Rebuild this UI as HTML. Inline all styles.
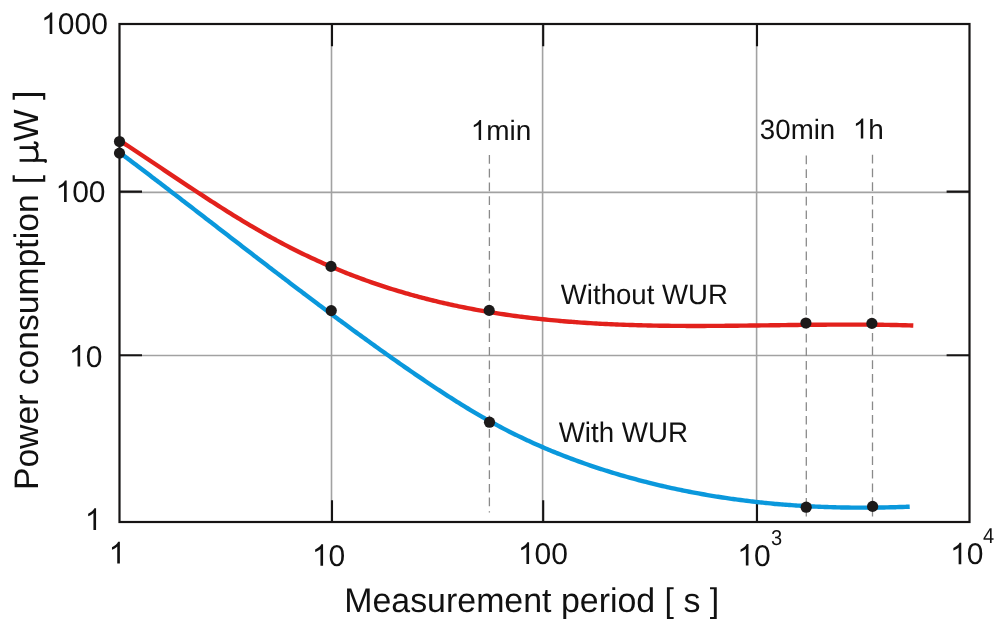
<!DOCTYPE html>
<html><head><meta charset="utf-8"><style>
html,body{margin:0;padding:0;background:#fff;overflow:hidden;width:1000px;height:627px;}
svg{display:block;}
text{font-family:"Liberation Sans",sans-serif;text-rendering:geometricPrecision;}
</style></head><body>
<svg width="1000" height="627" viewBox="0 0 1000 627">
<rect width="1000" height="627" fill="#fff"/>
<line x1="331.5" y1="24" x2="331.5" y2="522" stroke="#a2a2a2" stroke-width="1.6"/>
<line x1="542.6" y1="24" x2="542.6" y2="522" stroke="#a2a2a2" stroke-width="1.6"/>
<line x1="756.6" y1="24" x2="756.6" y2="522" stroke="#a2a2a2" stroke-width="1.6"/>
<line x1="119.5" y1="192.4" x2="969.5" y2="192.4" stroke="#a2a2a2" stroke-width="1.6"/>
<line x1="119.5" y1="355.5" x2="969.5" y2="355.5" stroke="#a2a2a2" stroke-width="1.6"/>
<path d="M332.0,24V46.2 M332.0,522V500.2 M543.2,24V46.2 M543.2,522V500.2 M757.0,24V46.2 M757.0,522V500.2 M119.5,191.6H142 M969.5,191.6H946.6 M119.5,355.3H142 M969.5,355.3H946.6" stroke="#161414" stroke-width="2.1" fill="none"/>
<line x1="489.4" y1="155.1" x2="489.4" y2="512.5" stroke="#8a8a8a" stroke-width="1.3" stroke-dasharray="8.7 5"/>
<line x1="806.3" y1="155.6" x2="806.3" y2="516.5" stroke="#8a8a8a" stroke-width="1.3" stroke-dasharray="8.7 5"/>
<line x1="872.5" y1="154.8" x2="872.5" y2="516.5" stroke="#8a8a8a" stroke-width="1.3" stroke-dasharray="8.7 5"/>
<rect x="119.5" y="24" width="850" height="498" fill="none" stroke="#161414" stroke-width="2.2"/>
<path d="M119.50,140.35 C120.00,140.68 121.50,141.66 122.50,142.32 C123.50,142.98 124.50,143.64 125.50,144.30 C126.50,144.95 127.50,145.61 128.50,146.28 C129.50,146.94 130.50,147.60 131.50,148.26 C132.50,148.92 133.50,149.59 134.50,150.25 C135.50,150.92 136.50,151.58 137.50,152.25 C138.50,152.91 139.50,153.58 140.50,154.24 C141.50,154.91 142.50,155.58 143.50,156.25 C144.50,156.91 145.50,157.58 146.50,158.25 C147.50,158.92 148.50,159.59 149.50,160.26 C150.50,160.92 151.50,161.59 152.50,162.26 C153.50,162.93 154.50,163.60 155.50,164.27 C156.50,164.94 157.50,165.61 158.50,166.28 C159.50,166.95 160.50,167.62 161.50,168.29 C162.50,168.96 163.50,169.63 164.50,170.30 C165.50,170.97 166.50,171.64 167.50,172.31 C168.50,172.98 169.50,173.65 170.50,174.32 C171.50,174.99 172.50,175.65 173.50,176.32 C174.50,176.99 175.50,177.66 176.50,178.32 C177.50,178.99 178.50,179.66 179.50,180.32 C180.50,180.99 181.50,181.66 182.50,182.32 C183.50,182.99 184.50,183.65 185.50,184.31 C186.50,184.98 187.50,185.64 188.50,186.30 C189.50,186.96 190.50,187.63 191.50,188.29 C192.50,188.95 193.50,189.61 194.50,190.26 C195.50,190.92 196.50,191.58 197.50,192.24 C198.50,192.89 199.50,193.55 200.50,194.20 C201.50,194.86 202.50,195.51 203.50,196.16 C204.50,196.81 205.50,197.46 206.50,198.11 C207.50,198.76 208.50,199.41 209.50,200.06 C210.50,200.70 211.50,201.35 212.50,201.99 C213.50,202.63 214.50,203.28 215.50,203.92 C216.50,204.56 217.50,205.20 218.50,205.83 C219.50,206.47 220.50,207.11 221.50,207.74 C222.50,208.38 223.50,209.01 224.50,209.64 C225.50,210.27 226.50,210.90 227.50,211.52 C228.50,212.15 229.50,212.78 230.50,213.40 C231.50,214.02 232.50,214.64 233.50,215.26 C234.50,215.88 235.50,216.50 236.50,217.11 C237.50,217.72 238.50,218.34 239.50,218.95 C240.50,219.56 241.50,220.17 242.50,220.77 C243.50,221.38 244.50,221.98 245.50,222.58 C246.50,223.18 247.50,223.78 248.50,224.38 C249.50,224.97 250.50,225.57 251.50,226.16 C252.50,226.75 253.50,227.34 254.50,227.92 C255.50,228.51 256.50,229.09 257.50,229.67 C258.50,230.25 259.50,230.83 260.50,231.40 C261.50,231.98 262.50,232.55 263.50,233.12 C264.50,233.69 265.50,234.25 266.50,234.82 C267.50,235.38 268.50,235.94 269.50,236.50 C270.50,237.05 271.50,237.61 272.50,238.16 C273.50,238.71 274.50,239.26 275.50,239.80 C276.50,240.34 277.50,240.89 278.50,241.42 C279.50,241.96 280.50,242.50 281.50,243.03 C282.50,243.56 283.50,244.09 284.50,244.61 C285.50,245.13 286.50,245.66 287.50,246.17 C288.50,246.69 289.50,247.21 290.50,247.72 C291.50,248.23 292.50,248.74 293.50,249.24 C294.50,249.74 295.50,250.25 296.50,250.74 C297.50,251.24 298.50,251.74 299.50,252.23 C300.50,252.72 301.50,253.21 302.50,253.69 C303.50,254.18 304.50,254.66 305.50,255.14 C306.50,255.62 307.50,256.09 308.50,256.57 C309.50,257.04 310.50,257.51 311.50,257.97 C312.50,258.44 313.50,258.90 314.50,259.36 C315.50,259.82 316.50,260.28 317.50,260.73 C318.50,261.19 319.50,261.64 320.50,262.08 C321.50,262.53 322.50,262.98 323.50,263.42 C324.50,263.86 325.50,264.30 326.50,264.73 C327.50,265.17 328.50,265.60 329.50,266.03 C330.50,266.46 331.50,266.88 332.50,267.30 C333.50,267.73 334.50,268.15 335.50,268.56 C336.50,268.98 337.50,269.40 338.50,269.81 C339.50,270.22 340.50,270.63 341.50,271.03 C342.50,271.44 343.50,271.84 344.50,272.24 C345.50,272.64 346.50,273.03 347.50,273.43 C348.50,273.82 349.50,274.21 350.50,274.60 C351.50,274.99 352.50,275.37 353.50,275.75 C354.50,276.14 355.50,276.51 356.50,276.89 C357.50,277.27 358.50,277.64 359.50,278.01 C360.50,278.38 361.50,278.75 362.50,279.12 C363.50,279.48 364.50,279.84 365.50,280.20 C366.50,280.56 367.50,280.92 368.50,281.27 C369.50,281.63 370.50,281.98 371.50,282.33 C372.50,282.67 373.50,283.02 374.50,283.36 C375.50,283.71 376.50,284.05 377.50,284.38 C378.50,284.72 379.50,285.06 380.50,285.39 C381.50,285.72 382.50,286.05 383.50,286.38 C384.50,286.71 385.50,287.03 386.50,287.35 C387.50,287.67 388.50,287.99 389.50,288.31 C390.50,288.63 391.50,288.94 392.50,289.25 C393.50,289.56 394.50,289.87 395.50,290.18 C396.50,290.48 397.50,290.79 398.50,291.09 C399.50,291.39 400.50,291.69 401.50,291.98 C402.50,292.28 403.50,292.57 404.50,292.87 C405.50,293.16 406.50,293.44 407.50,293.73 C408.50,294.02 409.50,294.30 410.50,294.58 C411.50,294.86 412.50,295.14 413.50,295.42 C414.50,295.69 415.50,295.97 416.50,296.24 C417.50,296.51 418.50,296.78 419.50,297.05 C420.50,297.31 421.50,297.58 422.50,297.84 C423.50,298.10 424.50,298.36 425.50,298.62 C426.50,298.87 427.50,299.13 428.50,299.38 C429.50,299.63 430.50,299.88 431.50,300.13 C432.50,300.38 433.50,300.62 434.50,300.87 C435.50,301.11 436.50,301.35 437.50,301.59 C438.50,301.83 439.50,302.07 440.50,302.30 C441.50,302.53 442.50,302.77 443.50,303.00 C444.50,303.23 445.50,303.45 446.50,303.68 C447.50,303.90 448.50,304.13 449.50,304.35 C450.50,304.57 451.50,304.79 452.50,305.00 C453.50,305.22 454.50,305.43 455.50,305.65 C456.50,305.86 457.50,306.07 458.50,306.28 C459.50,306.48 460.50,306.69 461.50,306.89 C462.50,307.10 463.50,307.30 464.50,307.50 C465.50,307.70 466.50,307.90 467.50,308.09 C468.50,308.29 469.50,308.48 470.50,308.67 C471.50,308.86 472.50,309.05 473.50,309.24 C474.50,309.43 475.50,309.61 476.50,309.79 C477.50,309.98 478.50,310.16 479.50,310.34 C480.50,310.52 481.50,310.69 482.50,310.87 C483.50,311.05 484.50,311.22 485.50,311.39 C486.50,311.56 487.50,311.73 488.50,311.90 C489.50,312.07 490.50,312.23 491.50,312.40 C492.50,312.56 493.50,312.72 494.50,312.88 C495.50,313.04 496.50,313.20 497.50,313.36 C498.50,313.51 499.50,313.67 500.50,313.82 C501.50,313.97 502.50,314.12 503.50,314.27 C504.50,314.42 505.50,314.57 506.50,314.71 C507.50,314.86 508.50,315.00 509.50,315.14 C510.50,315.29 511.50,315.43 512.50,315.57 C513.50,315.70 514.50,315.84 515.50,315.98 C516.50,316.11 517.50,316.24 518.50,316.37 C519.50,316.51 520.50,316.64 521.50,316.76 C522.50,316.89 523.50,317.02 524.50,317.14 C525.50,317.27 526.50,317.39 527.50,317.51 C528.50,317.63 529.50,317.75 530.50,317.87 C531.50,317.99 532.50,318.11 533.50,318.22 C534.50,318.34 535.50,318.45 536.50,318.56 C537.50,318.67 538.50,318.78 539.50,318.89 C540.50,319.00 541.50,319.11 542.50,319.21 C543.50,319.32 544.50,319.42 545.50,319.52 C546.50,319.63 547.50,319.73 548.50,319.83 C549.50,319.92 550.50,320.02 551.50,320.12 C552.50,320.22 553.50,320.31 554.50,320.40 C555.50,320.50 556.50,320.59 557.50,320.68 C558.50,320.77 559.50,320.86 560.50,320.95 C561.50,321.03 562.50,321.12 563.50,321.20 C564.50,321.29 565.50,321.37 566.50,321.45 C567.50,321.54 568.50,321.62 569.50,321.70 C570.50,321.78 571.50,321.85 572.50,321.93 C573.50,322.01 574.50,322.08 575.50,322.16 C576.50,322.23 577.50,322.30 578.50,322.37 C579.50,322.44 580.50,322.51 581.50,322.58 C582.50,322.65 583.50,322.72 584.50,322.78 C585.50,322.85 586.50,322.92 587.50,322.98 C588.50,323.04 589.50,323.10 590.50,323.17 C591.50,323.23 592.50,323.29 593.50,323.35 C594.50,323.40 595.50,323.46 596.50,323.52 C597.50,323.57 598.50,323.63 599.50,323.68 C600.50,323.74 601.50,323.79 602.50,323.84 C603.50,323.89 604.50,323.94 605.50,323.99 C606.50,324.04 607.50,324.09 608.50,324.14 C609.50,324.18 610.50,324.23 611.50,324.28 C612.50,324.32 613.50,324.36 614.50,324.41 C615.50,324.45 616.50,324.49 617.50,324.53 C618.50,324.57 619.50,324.61 620.50,324.65 C621.50,324.69 622.50,324.73 623.50,324.76 C624.50,324.80 625.50,324.84 626.50,324.87 C627.50,324.90 628.50,324.94 629.50,324.97 C630.50,325.00 631.50,325.04 632.50,325.07 C633.50,325.10 634.50,325.13 635.50,325.16 C636.50,325.18 637.50,325.21 638.50,325.24 C639.50,325.27 640.50,325.29 641.50,325.32 C642.50,325.34 643.50,325.37 644.50,325.39 C645.50,325.41 646.50,325.44 647.50,325.46 C648.50,325.48 649.50,325.50 650.50,325.52 C651.50,325.54 652.50,325.56 653.50,325.58 C654.50,325.60 655.50,325.62 656.50,325.63 C657.50,325.65 658.50,325.67 659.50,325.68 C660.50,325.70 661.50,325.71 662.50,325.73 C663.50,325.74 664.50,325.75 665.50,325.77 C666.50,325.78 667.50,325.79 668.50,325.80 C669.50,325.81 670.50,325.82 671.50,325.83 C672.50,325.84 673.50,325.85 674.50,325.86 C675.50,325.87 676.50,325.88 677.50,325.88 C678.50,325.89 679.50,325.90 680.50,325.90 C681.50,325.91 682.50,325.91 683.50,325.92 C684.50,325.92 685.50,325.93 686.50,325.93 C687.50,325.93 688.50,325.94 689.50,325.94 C690.50,325.94 691.50,325.94 692.50,325.94 C693.50,325.94 694.50,325.94 695.50,325.94 C696.50,325.94 697.50,325.94 698.50,325.94 C699.50,325.94 700.50,325.94 701.50,325.94 C702.50,325.94 703.50,325.94 704.50,325.93 C705.50,325.93 706.50,325.93 707.50,325.92 C708.50,325.92 709.50,325.91 710.50,325.91 C711.50,325.91 712.50,325.90 713.50,325.90 C714.50,325.89 715.50,325.88 716.50,325.88 C717.50,325.87 718.50,325.87 719.50,325.86 C720.50,325.85 721.50,325.84 722.50,325.84 C723.50,325.83 724.50,325.82 725.50,325.81 C726.50,325.80 727.50,325.80 728.50,325.79 C729.50,325.78 730.50,325.77 731.50,325.76 C732.50,325.75 733.50,325.74 734.50,325.73 C735.50,325.72 736.50,325.71 737.50,325.70 C738.50,325.69 739.50,325.68 740.50,325.67 C741.50,325.66 742.50,325.65 743.50,325.63 C744.50,325.62 745.50,325.61 746.50,325.60 C747.50,325.59 748.50,325.58 749.50,325.56 C750.50,325.55 751.50,325.54 752.50,325.53 C753.50,325.52 754.50,325.50 755.50,325.49 C756.50,325.48 757.50,325.47 758.50,325.45 C759.50,325.44 760.50,325.43 761.50,325.41 C762.50,325.40 763.50,325.39 764.50,325.38 C765.50,325.36 766.50,325.35 767.50,325.34 C768.50,325.32 769.50,325.31 770.50,325.30 C771.50,325.28 772.50,325.27 773.50,325.26 C774.50,325.24 775.50,325.23 776.50,325.22 C777.50,325.20 778.50,325.19 779.50,325.18 C780.50,325.17 781.50,325.15 782.50,325.14 C783.50,325.13 784.50,325.11 785.50,325.10 C786.50,325.09 787.50,325.08 788.50,325.06 C789.50,325.05 790.50,325.04 791.50,325.02 C792.50,325.01 793.50,325.00 794.50,324.99 C795.50,324.98 796.50,324.96 797.50,324.95 C798.50,324.94 799.50,324.93 800.50,324.92 C801.50,324.91 802.50,324.89 803.50,324.88 C804.50,324.87 805.50,324.86 806.50,324.85 C807.50,324.84 808.50,324.83 809.50,324.82 C810.50,324.81 811.50,324.80 812.50,324.79 C813.50,324.78 814.50,324.77 815.50,324.76 C816.50,324.75 817.50,324.74 818.50,324.74 C819.50,324.73 820.50,324.72 821.50,324.71 C822.50,324.70 823.50,324.70 824.50,324.69 C825.50,324.68 826.50,324.68 827.50,324.67 C828.50,324.66 829.50,324.66 830.50,324.65 C831.50,324.65 832.50,324.64 833.50,324.64 C834.50,324.63 835.50,324.63 836.50,324.62 C837.50,324.62 838.50,324.61 839.50,324.61 C840.50,324.61 841.50,324.61 842.50,324.60 C843.50,324.60 844.50,324.60 845.50,324.60 C846.50,324.60 847.50,324.60 848.50,324.60 C849.50,324.60 850.50,324.60 851.50,324.60 C852.50,324.60 853.50,324.60 854.50,324.60 C855.50,324.60 856.50,324.60 857.50,324.61 C858.50,324.61 859.50,324.61 860.50,324.62 C861.50,324.62 862.50,324.63 863.50,324.63 C864.50,324.64 865.50,324.64 866.50,324.65 C867.50,324.66 868.50,324.66 869.50,324.67 C870.50,324.68 871.50,324.69 872.50,324.70 C873.50,324.71 874.50,324.72 875.50,324.73 C876.50,324.74 877.50,324.75 878.50,324.76 C879.50,324.77 880.50,324.79 881.50,324.80 C882.50,324.81 883.50,324.83 884.50,324.84 C885.50,324.86 886.50,324.87 887.50,324.89 C888.50,324.91 889.50,324.92 890.50,324.94 C891.50,324.96 892.50,324.98 893.50,325.00 C894.50,325.02 895.50,325.04 896.50,325.06 C897.50,325.08 898.50,325.10 899.50,325.13 C900.50,325.15 901.50,325.17 902.50,325.20 C903.50,325.22 904.50,325.25 905.50,325.27 C906.50,325.30 907.50,325.33 908.50,325.36 C909.50,325.38 910.70,325.42 911.50,325.44 C912.30,325.47 913.00,325.49 913.30,325.50" fill="none" stroke="#e2211c" stroke-width="4.4" stroke-linejoin="round"/>
<path d="M119.50,152.35 C120.00,152.73 121.50,153.86 122.50,154.61 C123.50,155.37 124.50,156.12 125.50,156.88 C126.50,157.63 127.50,158.39 128.50,159.14 C129.50,159.90 130.50,160.65 131.50,161.41 C132.50,162.17 133.50,162.93 134.50,163.68 C135.50,164.44 136.50,165.20 137.50,165.96 C138.50,166.72 139.50,167.48 140.50,168.24 C141.50,169.00 142.50,169.76 143.50,170.52 C144.50,171.28 145.50,172.04 146.50,172.80 C147.50,173.57 148.50,174.33 149.50,175.09 C150.50,175.85 151.50,176.62 152.50,177.38 C153.50,178.14 154.50,178.91 155.50,179.67 C156.50,180.44 157.50,181.20 158.50,181.97 C159.50,182.73 160.50,183.50 161.50,184.26 C162.50,185.03 163.50,185.80 164.50,186.56 C165.50,187.33 166.50,188.09 167.50,188.86 C168.50,189.63 169.50,190.40 170.50,191.16 C171.50,191.93 172.50,192.70 173.50,193.47 C174.50,194.24 175.50,195.00 176.50,195.77 C177.50,196.54 178.50,197.31 179.50,198.08 C180.50,198.85 181.50,199.62 182.50,200.39 C183.50,201.16 184.50,201.93 185.50,202.70 C186.50,203.47 187.50,204.24 188.50,205.01 C189.50,205.78 190.50,206.55 191.50,207.32 C192.50,208.09 193.50,208.86 194.50,209.63 C195.50,210.40 196.50,211.17 197.50,211.94 C198.50,212.72 199.50,213.49 200.50,214.26 C201.50,215.03 202.50,215.80 203.50,216.57 C204.50,217.34 205.50,218.12 206.50,218.89 C207.50,219.66 208.50,220.43 209.50,221.20 C210.50,221.97 211.50,222.75 212.50,223.52 C213.50,224.29 214.50,225.06 215.50,225.83 C216.50,226.60 217.50,227.38 218.50,228.15 C219.50,228.92 220.50,229.69 221.50,230.46 C222.50,231.24 223.50,232.01 224.50,232.78 C225.50,233.55 226.50,234.32 227.50,235.09 C228.50,235.86 229.50,236.64 230.50,237.41 C231.50,238.18 232.50,238.95 233.50,239.72 C234.50,240.49 235.50,241.26 236.50,242.03 C237.50,242.80 238.50,243.57 239.50,244.34 C240.50,245.12 241.50,245.89 242.50,246.66 C243.50,247.43 244.50,248.20 245.50,248.97 C246.50,249.73 247.50,250.50 248.50,251.27 C249.50,252.04 250.50,252.81 251.50,253.58 C252.50,254.35 253.50,255.12 254.50,255.89 C255.50,256.66 256.50,257.42 257.50,258.19 C258.50,258.96 259.50,259.73 260.50,260.49 C261.50,261.26 262.50,262.03 263.50,262.79 C264.50,263.56 265.50,264.33 266.50,265.09 C267.50,265.86 268.50,266.63 269.50,267.39 C270.50,268.16 271.50,268.92 272.50,269.69 C273.50,270.45 274.50,271.21 275.50,271.98 C276.50,272.74 277.50,273.51 278.50,274.27 C279.50,275.03 280.50,275.79 281.50,276.56 C282.50,277.32 283.50,278.08 284.50,278.84 C285.50,279.60 286.50,280.36 287.50,281.12 C288.50,281.88 289.50,282.64 290.50,283.40 C291.50,284.16 292.50,284.92 293.50,285.68 C294.50,286.44 295.50,287.20 296.50,287.95 C297.50,288.71 298.50,289.47 299.50,290.23 C300.50,290.98 301.50,291.74 302.50,292.49 C303.50,293.25 304.50,294.00 305.50,294.76 C306.50,295.51 307.50,296.26 308.50,297.02 C309.50,297.77 310.50,298.52 311.50,299.27 C312.50,300.03 313.50,300.78 314.50,301.53 C315.50,302.28 316.50,303.03 317.50,303.78 C318.50,304.53 319.50,305.27 320.50,306.02 C321.50,306.77 322.50,307.52 323.50,308.26 C324.50,309.01 325.50,309.76 326.50,310.50 C327.50,311.25 328.50,311.99 329.50,312.73 C330.50,313.48 331.50,314.22 332.50,314.96 C333.50,315.70 334.50,316.45 335.50,317.19 C336.50,317.93 337.50,318.67 338.50,319.41 C339.50,320.14 340.50,320.88 341.50,321.62 C342.50,322.36 343.50,323.09 344.50,323.83 C345.50,324.57 346.50,325.30 347.50,326.03 C348.50,326.77 349.50,327.50 350.50,328.23 C351.50,328.97 352.50,329.70 353.50,330.43 C354.50,331.16 355.50,331.89 356.50,332.62 C357.50,333.35 358.50,334.07 359.50,334.80 C360.50,335.53 361.50,336.25 362.50,336.98 C363.50,337.70 364.50,338.43 365.50,339.15 C366.50,339.87 367.50,340.60 368.50,341.32 C369.50,342.04 370.50,342.76 371.50,343.48 C372.50,344.20 373.50,344.91 374.50,345.63 C375.50,346.35 376.50,347.06 377.50,347.78 C378.50,348.50 379.50,349.21 380.50,349.92 C381.50,350.63 382.50,351.35 383.50,352.06 C384.50,352.77 385.50,353.48 386.50,354.19 C387.50,354.90 388.50,355.60 389.50,356.31 C390.50,357.02 391.50,357.72 392.50,358.43 C393.50,359.13 394.50,359.83 395.50,360.53 C396.50,361.24 397.50,361.94 398.50,362.64 C399.50,363.34 400.50,364.03 401.50,364.73 C402.50,365.43 403.50,366.12 404.50,366.82 C405.50,367.51 406.50,368.21 407.50,368.90 C408.50,369.59 409.50,370.28 410.50,370.97 C411.50,371.66 412.50,372.35 413.50,373.04 C414.50,373.72 415.50,374.41 416.50,375.09 C417.50,375.78 418.50,376.46 419.50,377.14 C420.50,377.82 421.50,378.50 422.50,379.18 C423.50,379.86 424.50,380.54 425.50,381.21 C426.50,381.89 427.50,382.56 428.50,383.23 C429.50,383.90 430.50,384.57 431.50,385.24 C432.50,385.90 433.50,386.57 434.50,387.23 C435.50,387.90 436.50,388.56 437.50,389.22 C438.50,389.88 439.50,390.53 440.50,391.19 C441.50,391.84 442.50,392.49 443.50,393.14 C444.50,393.79 445.50,394.44 446.50,395.09 C447.50,395.73 448.50,396.38 449.50,397.02 C450.50,397.66 451.50,398.29 452.50,398.93 C453.50,399.57 454.50,400.20 455.50,400.83 C456.50,401.46 457.50,402.08 458.50,402.71 C459.50,403.33 460.50,403.95 461.50,404.57 C462.50,405.19 463.50,405.81 464.50,406.42 C465.50,407.03 466.50,407.64 467.50,408.25 C468.50,408.86 469.50,409.46 470.50,410.06 C471.50,410.66 472.50,411.26 473.50,411.85 C474.50,412.44 475.50,413.03 476.50,413.62 C477.50,414.21 478.50,414.79 479.50,415.37 C480.50,415.95 481.50,416.53 482.50,417.10 C483.50,417.67 484.50,418.24 485.50,418.81 C486.50,419.37 487.50,419.94 488.50,420.50 C489.50,421.05 490.50,421.61 491.50,422.16 C492.50,422.71 493.50,423.26 494.50,423.80 C495.50,424.34 496.50,424.88 497.50,425.42 C498.50,425.95 499.50,426.48 500.50,427.01 C501.50,427.54 502.50,428.06 503.50,428.58 C504.50,429.11 505.50,429.62 506.50,430.14 C507.50,430.65 508.50,431.16 509.50,431.67 C510.50,432.17 511.50,432.67 512.50,433.17 C513.50,433.67 514.50,434.17 515.50,434.66 C516.50,435.15 517.50,435.64 518.50,436.13 C519.50,436.61 520.50,437.09 521.50,437.57 C522.50,438.05 523.50,438.52 524.50,439.00 C525.50,439.47 526.50,439.94 527.50,440.40 C528.50,440.86 529.50,441.33 530.50,441.78 C531.50,442.24 532.50,442.70 533.50,443.15 C534.50,443.60 535.50,444.05 536.50,444.49 C537.50,444.94 538.50,445.38 539.50,445.82 C540.50,446.26 541.50,446.69 542.50,447.12 C543.50,447.55 544.50,447.98 545.50,448.41 C546.50,448.83 547.50,449.26 548.50,449.68 C549.50,450.10 550.50,450.51 551.50,450.93 C552.50,451.34 553.50,451.75 554.50,452.16 C555.50,452.56 556.50,452.97 557.50,453.37 C558.50,453.77 559.50,454.17 560.50,454.56 C561.50,454.96 562.50,455.35 563.50,455.74 C564.50,456.13 565.50,456.52 566.50,456.90 C567.50,457.28 568.50,457.66 569.50,458.04 C570.50,458.42 571.50,458.79 572.50,459.17 C573.50,459.54 574.50,459.91 575.50,460.27 C576.50,460.64 577.50,461.01 578.50,461.37 C579.50,461.73 580.50,462.09 581.50,462.44 C582.50,462.80 583.50,463.15 584.50,463.50 C585.50,463.85 586.50,464.20 587.50,464.54 C588.50,464.89 589.50,465.23 590.50,465.57 C591.50,465.91 592.50,466.25 593.50,466.58 C594.50,466.92 595.50,467.25 596.50,467.58 C597.50,467.91 598.50,468.24 599.50,468.56 C600.50,468.88 601.50,469.21 602.50,469.53 C603.50,469.85 604.50,470.16 605.50,470.48 C606.50,470.79 607.50,471.11 608.50,471.42 C609.50,471.73 610.50,472.03 611.50,472.34 C612.50,472.64 613.50,472.95 614.50,473.25 C615.50,473.55 616.50,473.85 617.50,474.14 C618.50,474.44 619.50,474.73 620.50,475.03 C621.50,475.32 622.50,475.61 623.50,475.89 C624.50,476.18 625.50,476.47 626.50,476.75 C627.50,477.03 628.50,477.31 629.50,477.59 C630.50,477.87 631.50,478.15 632.50,478.42 C633.50,478.70 634.50,478.97 635.50,479.24 C636.50,479.51 637.50,479.77 638.50,480.04 C639.50,480.31 640.50,480.57 641.50,480.83 C642.50,481.09 643.50,481.35 644.50,481.61 C645.50,481.86 646.50,482.12 647.50,482.37 C648.50,482.62 649.50,482.87 650.50,483.12 C651.50,483.37 652.50,483.62 653.50,483.86 C654.50,484.11 655.50,484.35 656.50,484.59 C657.50,484.83 658.50,485.07 659.50,485.30 C660.50,485.54 661.50,485.77 662.50,486.00 C663.50,486.23 664.50,486.46 665.50,486.69 C666.50,486.92 667.50,487.14 668.50,487.37 C669.50,487.59 670.50,487.81 671.50,488.03 C672.50,488.25 673.50,488.47 674.50,488.68 C675.50,488.90 676.50,489.11 677.50,489.32 C678.50,489.53 679.50,489.74 680.50,489.95 C681.50,490.15 682.50,490.36 683.50,490.56 C684.50,490.77 685.50,490.97 686.50,491.17 C687.50,491.36 688.50,491.56 689.50,491.76 C690.50,491.95 691.50,492.14 692.50,492.34 C693.50,492.53 694.50,492.72 695.50,492.90 C696.50,493.09 697.50,493.27 698.50,493.46 C699.50,493.64 700.50,493.82 701.50,494.00 C702.50,494.18 703.50,494.36 704.50,494.53 C705.50,494.71 706.50,494.88 707.50,495.05 C708.50,495.23 709.50,495.40 710.50,495.56 C711.50,495.73 712.50,495.90 713.50,496.06 C714.50,496.22 715.50,496.39 716.50,496.55 C717.50,496.71 718.50,496.86 719.50,497.02 C720.50,497.18 721.50,497.33 722.50,497.48 C723.50,497.64 724.50,497.79 725.50,497.94 C726.50,498.09 727.50,498.23 728.50,498.38 C729.50,498.52 730.50,498.67 731.50,498.81 C732.50,498.95 733.50,499.09 734.50,499.23 C735.50,499.36 736.50,499.50 737.50,499.63 C738.50,499.77 739.50,499.90 740.50,500.03 C741.50,500.16 742.50,500.29 743.50,500.42 C744.50,500.54 745.50,500.67 746.50,500.79 C747.50,500.92 748.50,501.04 749.50,501.16 C750.50,501.28 751.50,501.39 752.50,501.51 C753.50,501.63 754.50,501.74 755.50,501.85 C756.50,501.97 757.50,502.08 758.50,502.19 C759.50,502.30 760.50,502.40 761.50,502.51 C762.50,502.61 763.50,502.72 764.50,502.82 C765.50,502.92 766.50,503.02 767.50,503.12 C768.50,503.22 769.50,503.32 770.50,503.41 C771.50,503.51 772.50,503.60 773.50,503.69 C774.50,503.79 775.50,503.88 776.50,503.96 C777.50,504.05 778.50,504.14 779.50,504.22 C780.50,504.31 781.50,504.39 782.50,504.48 C783.50,504.56 784.50,504.64 785.50,504.72 C786.50,504.79 787.50,504.87 788.50,504.95 C789.50,505.02 790.50,505.10 791.50,505.17 C792.50,505.24 793.50,505.31 794.50,505.38 C795.50,505.45 796.50,505.51 797.50,505.58 C798.50,505.64 799.50,505.71 800.50,505.77 C801.50,505.83 802.50,505.89 803.50,505.95 C804.50,506.01 805.50,506.07 806.50,506.13 C807.50,506.18 808.50,506.24 809.50,506.29 C810.50,506.34 811.50,506.39 812.50,506.44 C813.50,506.49 814.50,506.54 815.50,506.59 C816.50,506.63 817.50,506.68 818.50,506.72 C819.50,506.76 820.50,506.81 821.50,506.85 C822.50,506.89 823.50,506.92 824.50,506.96 C825.50,507.00 826.50,507.03 827.50,507.07 C828.50,507.10 829.50,507.14 830.50,507.17 C831.50,507.20 832.50,507.23 833.50,507.26 C834.50,507.28 835.50,507.31 836.50,507.34 C837.50,507.36 838.50,507.39 839.50,507.41 C840.50,507.43 841.50,507.45 842.50,507.47 C843.50,507.49 844.50,507.51 845.50,507.52 C846.50,507.54 847.50,507.56 848.50,507.57 C849.50,507.58 850.50,507.59 851.50,507.61 C852.50,507.62 853.50,507.63 854.50,507.63 C855.50,507.64 856.50,507.65 857.50,507.65 C858.50,507.66 859.50,507.66 860.50,507.66 C861.50,507.67 862.50,507.67 863.50,507.67 C864.50,507.67 865.50,507.66 866.50,507.66 C867.50,507.66 868.50,507.65 869.50,507.65 C870.50,507.64 871.50,507.63 872.50,507.62 C873.50,507.62 874.50,507.61 875.50,507.59 C876.50,507.58 877.50,507.57 878.50,507.56 C879.50,507.54 880.50,507.53 881.50,507.51 C882.50,507.49 883.50,507.47 884.50,507.46 C885.50,507.44 886.50,507.41 887.50,507.39 C888.50,507.37 889.50,507.35 890.50,507.32 C891.50,507.30 892.50,507.27 893.50,507.24 C894.50,507.22 895.50,507.19 896.50,507.16 C897.50,507.13 898.50,507.10 899.50,507.07 C900.50,507.03 901.50,507.00 902.50,506.97 C903.50,506.93 904.50,506.89 905.50,506.86 C906.50,506.82 907.80,506.77 908.50,506.74 C909.20,506.71 909.50,506.70 909.70,506.69" fill="none" stroke="#0a98dc" stroke-width="4.4" stroke-linejoin="round"/>
<circle cx="119.5" cy="141.5" r="5.6" fill="#1c1a1a"/>
<circle cx="331" cy="266.4" r="5.6" fill="#1c1a1a"/>
<circle cx="489.2" cy="310.4" r="5.6" fill="#1c1a1a"/>
<circle cx="805.9" cy="323" r="5.6" fill="#1c1a1a"/>
<circle cx="871.9" cy="323.4" r="5.6" fill="#1c1a1a"/>
<circle cx="119.5" cy="153.1" r="5.6" fill="#1c1a1a"/>
<circle cx="331.25" cy="310.6" r="5.6" fill="#1c1a1a"/>
<circle cx="489.5" cy="422.2" r="5.6" fill="#1c1a1a"/>
<circle cx="806.2" cy="507.2" r="5.6" fill="#1c1a1a"/>
<circle cx="872.6" cy="506.4" r="5.6" fill="#1c1a1a"/>
<g fill="#111" font-family="Liberation Sans, sans-serif" style="filter:grayscale(1)"><path d="M763 0H583V1147Q518 1085 412.5 1023Q307 961 223 930V1104Q374 1175 487 1276Q600 1377 647 1472H763Z" transform="translate(41.10,34.00) scale(0.01465,-0.01465)"/>
<text x="57.79" y="34.00" font-size="30">0</text>
<text x="74.47" y="34.00" font-size="30">0</text>
<text x="91.16" y="34.00" font-size="30">0</text>
<path d="M763 0H583V1147Q518 1085 412.5 1023Q307 961 223 930V1104Q374 1175 487 1276Q600 1377 647 1472H763Z" transform="translate(55.50,202.10) scale(0.01465,-0.01465)"/>
<text x="72.19" y="202.10" font-size="30">0</text>
<text x="88.87" y="202.10" font-size="30">0</text>
<path d="M763 0H583V1147Q518 1085 412.5 1023Q307 961 223 930V1104Q374 1175 487 1276Q600 1377 647 1472H763Z" transform="translate(69.00,366.60) scale(0.01465,-0.01465)"/>
<text x="85.69" y="366.60" font-size="30">0</text>
<path d="M763 0H583V1147Q518 1085 412.5 1023Q307 961 223 930V1104Q374 1175 487 1276Q600 1377 647 1472H763Z" transform="translate(84.90,529.90) scale(0.01465,-0.01465)"/>
<path d="M763 0H583V1147Q518 1085 412.5 1023Q307 961 223 930V1104Q374 1175 487 1276Q600 1377 647 1472H763Z" transform="translate(108.70,563.40) scale(0.01465,-0.01465)"/>
<path d="M763 0H583V1147Q518 1085 412.5 1023Q307 961 223 930V1104Q374 1175 487 1276Q600 1377 647 1472H763Z" transform="translate(311.90,565.70) scale(0.01465,-0.01465)"/>
<text x="328.59" y="565.70" font-size="30">0</text>
<path d="M763 0H583V1147Q518 1085 412.5 1023Q307 961 223 930V1104Q374 1175 487 1276Q600 1377 647 1472H763Z" transform="translate(517.90,563.90) scale(0.01465,-0.01465)"/>
<text x="534.59" y="563.90" font-size="30">0</text>
<text x="551.27" y="563.90" font-size="30">0</text>
<path d="M763 0H583V1147Q518 1085 412.5 1023Q307 961 223 930V1104Q374 1175 487 1276Q600 1377 647 1472H763Z" transform="translate(737.30,565.60) scale(0.01465,-0.01465)"/>
<text x="753.99" y="565.60" font-size="30">0</text>
<text transform="translate(770.9,544.7) scale(0.93,1)" font-size="21.6">3</text>
<path d="M763 0H583V1147Q518 1085 412.5 1023Q307 961 223 930V1104Q374 1175 487 1276Q600 1377 647 1472H763Z" transform="translate(950.10,564.20) scale(0.01465,-0.01465)"/>
<text x="966.79" y="564.20" font-size="30">0</text>
<text transform="translate(983.0,542.9) scale(0.93,1)" font-size="21.6">4</text>
<path d="M763 0H583V1147Q518 1085 412.5 1023Q307 961 223 930V1104Q374 1175 487 1276Q600 1377 647 1472H763Z" transform="translate(470.78,139.90) scale(0.01353,-0.01353)"/>
<text transform="translate(486.13,139.90) scale(1,1.0)" font-size="27.99">min</text>
<text transform="translate(759.87,139.30) scale(1,1.015)" font-size="27.66">30min</text>
<path d="M763 0H583V1147Q518 1085 412.5 1023Q307 961 223 930V1104Q374 1175 487 1276Q600 1377 647 1472H763Z" transform="translate(852.86,138.60) scale(0.01362,-0.01362)"/>
<text transform="translate(868.36,138.60) scale(1,0.99)" font-size="27.97">h</text>
<text transform="translate(560.84,303.60) scale(1,1.02)" font-size="27.59">Without WUR</text>
<text transform="translate(558.64,441.80) scale(1,1.02)" font-size="27.71">With WUR</text>
<text transform="translate(344.21,611.90) scale(1,1.01)" font-size="33.92">Measurement period [ s ]</text>
<text transform="translate(38.2,490.07) rotate(-90) scale(1,1.01)" font-size="33.68">Power consumption</text>
<text transform="translate(38.2,184.20) rotate(-90) scale(1,1.04)" font-size="33.68">[</text>
<g transform="translate(38.2,160.4) rotate(-90) scale(1,-1)" fill="none" stroke="#111" stroke-width="2.6"><path d="M0,18.6V-7.2"/><path d="M0,5C0,2.2 2.2,0.8 5.2,0.8C8.6,0.8 12.8,2.5 12.8,6"/><path d="M12.8,18.6V3.6C12.8,1.4 14.2,0.9 15.6,0.9C17.2,0.9 17.8,2.2 17.9,4.4"/><ellipse cx="-0.6" cy="-7.4" rx="1.9" ry="1.4" fill="#111" stroke="none"/></g>
<text transform="translate(38.2,141.20) rotate(-90) scale(1,1.04)" font-size="33.68">W</text>
<text transform="translate(38.2,100.10) rotate(-90) scale(1,1.04)" font-size="33.68">]</text></g>
</svg>
</body></html>
